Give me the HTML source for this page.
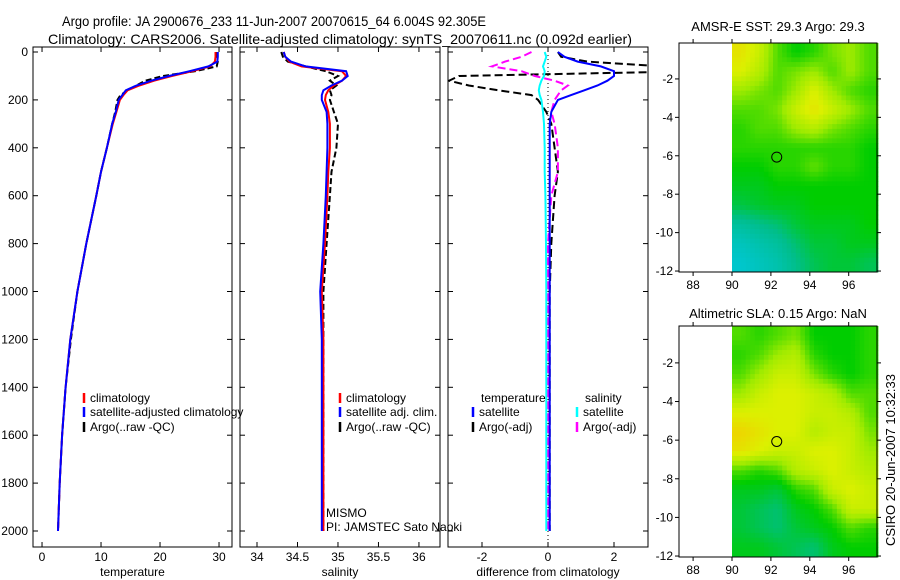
<!DOCTYPE html>
<html><head><meta charset="utf-8"><style>
body{margin:0;background:#fff;}
svg{display:block;font-family:"Liberation Sans",sans-serif;}
</style></head><body>
<svg id="c" width="900" height="580" viewBox="0 0 900 580">
<text x="62" y="26" font-size="14" textLength="424" lengthAdjust="spacingAndGlyphs">Argo profile: JA 2900676_233 11-Jun-2007 20070615_64 6.004S 92.305E</text>
<text x="48" y="44" font-size="14" textLength="584" lengthAdjust="spacingAndGlyphs">Climatology: CARS2006. Satellite-adjusted climatology: synTS_20070611.nc (0.092d earlier)</text>
<text x="778" y="31" text-anchor="middle" font-size="13">AMSR-E SST: 29.3 Argo: 29.3</text>
<text x="778" y="318" text-anchor="middle" font-size="13">Altimetric SLA: 0.15 Argo: NaN</text>
<text transform="translate(895,460) rotate(-90)" text-anchor="middle" font-size="13">CSIRO 20-Jun-2007 10:32:33</text>
</svg>
<script>
// ---- profile data ----
const depths=[0,20,40,60,80,100,120,140,160,180,200,250,300,400,500,600,800,1000,1200,1400,1600,1800,2000];
const tempClim=[29.4,29.4,29.3,28.5,25.5,22,19,16.5,14.5,13.8,13.2,12.6,12,11,10,9.2,7.5,6,4.8,4,3.4,3,2.7];
const tempSat=[29.8,29.8,29.7,28.2,25,21.5,18.5,16,14.2,13.6,13,12.5,11.9,11,10,9.2,7.5,6,4.8,4,3.4,3,2.7];
const tempArgo=[29.7,29.7,29.8,29.6,26,20.5,17.5,16,14.5,13.3,12.8,12.4,11.9,11,10,9.2,7.5,6,4.9,4,3.4,3,2.7];
const salClim=[34.33,34.35,34.4,34.55,35.05,35.1,35.05,34.95,34.88,34.85,34.84,34.88,34.9,34.9,34.88,34.87,34.84,34.8,34.82,34.82,34.82,34.82,34.82];
const salSat=[34.33,34.35,34.42,34.6,35.1,35.12,35.05,34.92,34.82,34.8,34.8,34.86,34.87,34.87,34.86,34.85,34.82,34.78,34.8,34.8,34.8,34.8,34.8];
const salArgo=[34.3,34.32,34.38,34.6,34.85,35.0,34.9,34.98,34.9,34.92,34.9,34.95,35.0,34.98,34.92,34.9,34.86,34.82,34.82,34.82,34.82,34.82,34.82];
const dTempSat=[0.3,0.5,0.9,1.6,2.0,2.0,1.8,1.5,1.1,0.7,0.3,0.1,0.05,0.05,0.05,0.05,0.05,0.05,0.05,0.05,0.05,0.05,0.05];
const dTempArgo=[0.3,0.4,1.2,3.5,4.5,-2.7,-3.0,-2.4,-1.5,-0.5,-0.3,-0.05,0.1,0.2,0.3,0.2,0.1,0.05,0.05,0.05,0.05,0.05,0.05];
const dSalSat=[-0.1,-0.05,-0.1,-0.15,-0.1,-0.12,-0.2,-0.25,-0.28,-0.25,-0.2,-0.15,-0.12,-0.1,-0.1,-0.08,-0.06,-0.05,-0.05,-0.05,-0.05,-0.05,-0.05];
const dSalArgo=[-0.5,-0.8,-1.3,-1.7,-0.8,-0.4,0.2,0.6,0.4,0.3,0.2,0.1,0.2,0.3,0.3,0.1,0,0,0,0,0,0,0];
const depthTicks=[0,200,400,600,800,1000,1200,1400,1600,1800,2000];
const tempTicks=[0,10,20,30], salTicks=[34,34.5,35,35.5,36], diffTicks=[-2,0,2];
// ---- map data ----
const mapLonTicks=[88,90,92,94,96];
const sstLatTicks=[-2,-4,-6,-8,-10,-12], slaLatTicks=[-2,-4,-6,-8,-10,-12];
const sstGrid=[
[0.9,0.8,0.6,0.5,0.55,0.65,0.7,0.6],
[0.85,0.75,0.6,0.65,0.7,0.6,0.7,0.6],
[0.7,0.65,0.6,0.7,0.85,0.7,0.6,0.55],
[0.6,0.6,0.65,0.8,0.9,0.8,0.7,0.6],
[0.55,0.6,0.6,0.7,0.75,0.65,0.6,0.55],
[0.55,0.55,0.55,0.55,0.55,0.55,0.55,0.5],
[0.5,0.5,0.55,0.55,0.62,0.55,0.55,0.5],
[0.45,0.45,0.5,0.5,0.5,0.5,0.5,0.5],
[0.38,0.42,0.45,0.45,0.5,0.5,0.5,0.5],
[0.2,0.25,0.3,0.4,0.45,0.45,0.45,0.5],
[0.1,0.15,0.2,0.3,0.4,0.4,0.45,0.45],
[0.05,0.1,0.15,0.25,0.35,0.4,0.4,0.35]];
const slaGrid=[
[0.6,0.55,0.6,0.65,0.5,0.5,0.5,0.55],
[0.55,0.6,0.7,0.75,0.55,0.5,0.5,0.55],
[0.6,0.7,0.8,0.8,0.65,0.55,0.5,0.55],
[0.7,0.8,0.85,0.85,0.8,0.75,0.6,0.6],
[0.85,0.85,0.85,0.85,0.8,0.8,0.75,0.6],
[0.95,0.9,0.85,0.85,0.75,0.8,0.8,0.65],
[0.9,0.85,0.8,0.8,0.85,0.85,0.8,0.7],
[0.6,0.55,0.6,0.75,0.8,0.85,0.8,0.75],
[0.45,0.45,0.4,0.55,0.6,0.8,0.85,0.8],
[0.4,0.35,0.3,0.45,0.5,0.6,0.8,0.8],
[0.4,0.35,0.3,0.4,0.45,0.5,0.6,0.55],
[0.45,0.45,0.4,0.35,0.3,0.45,0.5,0.5]];
const argoLon=92.3, argoLat=-6.07;

const NS='http://www.w3.org/2000/svg';
const svg=document.getElementById('c');
function mk(tag,attrs,parent){const e=document.createElementNS(NS,tag);for(const k in attrs)e.setAttribute(k,attrs[k]);(parent||svg).appendChild(e);return e;}
const yD=d=>52+d*0.2395;
function panel(x0,x1,xmin,xmax,name){
  const sx=v=>x0+(v-xmin)/(xmax-xmin)*(x1-x0);
  const g=mk('g',{});
  
  
  const r=mk('rect',{x:x0,y:47,width:x1-x0,height:500,fill:'none',stroke:'#000','stroke-width':1},g);
  
  
  return {g,sx};
}
function xTicks(p,ticks,label,x0,x1){
  ticks.forEach(t=>{const x=p.sx(t);
    mk('line',{x1:x,x2:x,y1:547,y2:542,stroke:'#000'},p.g);mk('line',{x1:x,x2:x,y1:47,y2:52,stroke:'#000'},p.g);
    const tx=mk('text',{x:x,y:561,'text-anchor':'middle','font-size':12},p.g);tx.textContent=t;
    
    });
  const t=mk('text',{x:(x0+x1)/2,y:576,'text-anchor':'middle','font-size':12},p.g);t.textContent=label;
  
  
}
function yTicks(p,x0,x1,labels){
  depthTicks.forEach(d=>{const y=yD(d);
    mk('line',{x1:x0,x2:x0+5,y1:y,y2:y,stroke:'#000'},p.g);mk('line',{x1:x1,x2:x1-5,y1:y,y2:y,stroke:'#000'},p.g);
    if(labels){const t=mk('text',{x:x0-5,y:y+4,'text-anchor':'end','font-size':12},p.g);t.textContent=d;
      
      }});
}
function line(p,vals,color,dash,name,w){
  const pts=depths.map((d,i)=>p.sx(vals[i]).toFixed(1)+','+yD(d).toFixed(1)).join(' ');
  const l=mk('polyline',{points:pts,fill:'none',stroke:color,'stroke-width':w||2,'stroke-dasharray':dash||'none'},p.g);
  
  
}
function clip(id,x0,x1){const d=mk('clipPath',{id});mk('rect',{x:x0,y:47,width:x1-x0,height:500},d);}
function legend(p,x,y,color,dash,label){
  mk('line',{x1:x,x2:x,y1:y-9,y2:y+1,stroke:color,'stroke-width':2.5},p.g);
  const t=mk('text',{x:x+6,y:y,'font-size':12},p.g);t.textContent=label;
  
  
}
// Temperature panel
const p1=panel(33,232,-1.53,32.2,'temperature-panel');
yTicks(p1,33,232,true);xTicks(p1,tempTicks,'temperature',33,232);
clip('c1',33,232);
const g1=mk('g',{'clip-path':'url(#c1)'},p1.g);const q1={g:g1,sx:p1.sx};
line(q1,tempArgo,'#000','6,3','temp-argo-line');line(q1,tempClim,'#f00',null,'temp-clim-line');line(q1,tempSat,'#00f',null,'temp-sat-line');
legend(p1,84,402,'#f00',0,'climatology');legend(p1,84,416,'#00f',0,'satellite-adjusted climatology');legend(p1,84,431,'#000',0,'Argo(..raw -QC)');
// Salinity panel
const p2=panel(240,440,33.79,36.26,'salinity-panel');
yTicks(p2,240,440,false);xTicks(p2,salTicks,'salinity',240,440);
clip('c2',240,440);
const g2=mk('g',{'clip-path':'url(#c2)'},p2.g);const q2={g:g2,sx:p2.sx};
line(q2,salArgo,'#000','6,3','sal-argo-line');line(q2,salClim,'#f00',null,'sal-clim-line');line(q2,salSat,'#00f',null,'sal-sat-line');
legend(p2,340,402,'#f00',0,'climatology');legend(p2,340,416,'#00f',0,'satellite adj. clim.');legend(p2,340,431,'#000',0,'Argo(..raw -QC)');
[['MISMO',517,'project-label'],['PI: JAMSTEC Sato Naoki',531,'pi-label']].forEach(a=>{const t=mk('text',{x:326,y:a[1],'font-size':12},p2.g);t.textContent=a[0];
  
  });
// Difference panel
const p3=panel(448,648,-3.03,3.03,'difference-panel');
yTicks(p3,448,648,false);xTicks(p3,diffTicks,'difference from climatology',448,648);
clip('c3',448,648);
const g3=mk('g',{'clip-path':'url(#c3)'},p3.g);const q3={g:g3,sx:p3.sx};
mk('line',{x1:p3.sx(0),x2:p3.sx(0),y1:47,y2:547,stroke:'#000','stroke-dasharray':'1,3'},g3);
line(q3,dTempArgo,'#000','8,4','dtemp-argo-line');line(q3,dSalArgo,'#f0f','8,4','dsal-argo-line');
line(q3,dSalSat,'#0ff',null,'dsal-sat-line');line(q3,dTempSat,'#00f',null,'dtemp-sat-line');
[['temperature',481,402],['salinity',585,402]].forEach(a=>{const t=mk('text',{x:a[1],y:a[2],'font-size':12},p3.g);t.textContent=a[0];
  
  });
legend(p3,473,416,'#00f',0,'satellite');legend(p3,473,431,'#000',0,'Argo(-adj)');
legend(p3,577,416,'#0ff',0,'satellite');legend(p3,577,431,'#f0f',0,'Argo(-adj)');

// ---- maps ----
const stops=[[0,[0,200,220]],[0.25,[0,190,140]],[0.5,[0,205,0]],[0.7,[160,235,0]],[0.85,[220,240,0]],[1,[245,200,0]]];
function col(v){v=Math.max(0,Math.min(1,v));for(let i=1;i<stops.length;i++){if(v<=stops[i][0]){const a=stops[i-1],b=stops[i],f=(v-a[0])/(b[0]-a[0]);
  return 'rgb('+a[1].map((c,k)=>Math.round(c+(b[1][k]-c)*f)).join(',')+')';}}return 'rgb(245,200,0)';}
function sample(grid,fr,fc){
  const nr=grid.length,nc=grid[0].length;
  let r=fr-0.5,c=fc-0.5;r=Math.max(0,Math.min(nr-1,r));c=Math.max(0,Math.min(nc-1,c));
  const r0=Math.floor(r),c0=Math.floor(c),r1=Math.min(nr-1,r0+1),c1=Math.min(nc-1,c0+1),fy=r-r0,fx=c-c0;
  return (grid[r0][c0]*(1-fx)+grid[r0][c1]*fx)*(1-fy)+(grid[r1][c0]*(1-fx)+grid[r1][c1]*fx)*fy;
}
function map(y0,y1,latTop,latTicks,grid,name){
  const x0=679,x1=877;
  const sx=lon=>732+(lon-90)*19.45;
  const pxPerDeg=(y1-y0)/(latTop+12.05);
  const sy=lat=>y0+(latTop-lat)*pxPerDeg;
  const g=mk('g',{});
  
  
  const nr=grid.length,nc=grid[0].length,sub=4;
  const latH=(latTop+12.05)/(nr*sub), lonW=7.5/(nc*sub);
  for(let r=0;r<nr*sub;r++)for(let c=0;c<nc*sub;c++){
    const v=sample(grid,(r+0.5)/sub,(c+0.5)/sub);
    const xa=sx(90+c*lonW),xb=sx(90+(c+1)*lonW),ya=sy(latTop-r*latH),yb=sy(latTop-(r+1)*latH);
    const cell=mk('rect',{x:xa,y:ya,width:xb-xa+0.5,height:yb-ya+0.5,fill:col(v)},g);
    
    
  }
  mk('rect',{x:x0,y:y0,width:x1-x0,height:y1-y0,fill:'none',stroke:'#000'},g);
  mapLonTicks.forEach(l=>{const x=sx(l);mk('line',{x1:x,x2:x,y1:y1,y2:y1+4,stroke:'#000'},g);mk('line',{x1:x,x2:x,y1:y0,y2:y0-4,stroke:'#000'},g);
    const t=mk('text',{x:x,y:y1+17,'text-anchor':'middle','font-size':12},g);t.textContent=l;
    
    });
  latTicks.forEach(l=>{const y=sy(l);mk('line',{x1:x0,x2:x0-4,y1:y,y2:y,stroke:'#000'},g);mk('line',{x1:x1,x2:x1+4,y1:y,y2:y,stroke:'#000'},g);
    const t=mk('text',{x:x0-6,y:y+4,'text-anchor':'end','font-size':12},g);t.textContent=l;
    
    });
  const c=mk('circle',{cx:sx(argoLon),cy:sy(argoLat),r:5,fill:'none',stroke:'#000'},g);
  
  
}
map(43,272,-0.13,sstLatTicks,sstGrid,'sst-map');
map(326,557,-0.09,slaLatTicks,slaGrid,'sla-map');
</script>
</body></html>
